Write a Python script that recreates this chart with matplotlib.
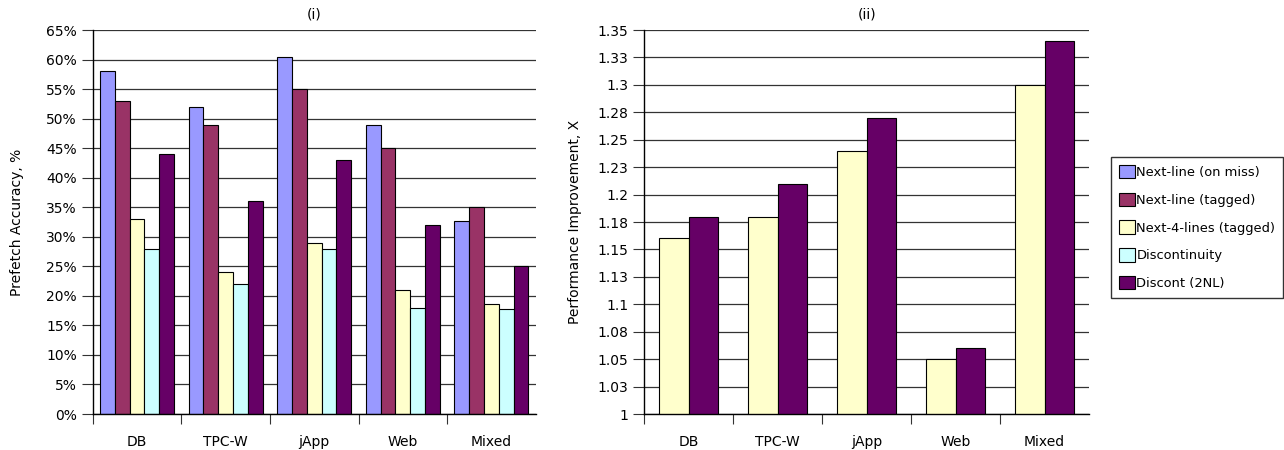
import numpy as np
import matplotlib
matplotlib.use("Agg")
import matplotlib.pyplot as plt
from matplotlib.ticker import FuncFormatter

# data
groups = ["DB", "TPC-W", "jApp", "Web", "Mixed"]
series = ["Next-line (on miss)", "Next-line (tagged)", "Next-4-lines (tagged)",
          "Discontinuity", "Discont (2NL)"]
colors = ["#9999FF", "#993366", "#FFFFCC", "#CCFFFF", "#660066"]

next_line_miss = [58, 52, 60.5, 49, 32.6]
next_line_tagged = [53, 49, 55, 45, 35.1]
next4_tagged = [33, 24, 29, 21, 18.6]
discontinuity = [28, 22, 28, 18, 17.8]
discont_2nl = [44, 36, 43, 32, 25]
accuracy = [next_line_miss, next_line_tagged, next4_tagged, discontinuity, discont_2nl]

perf_next4 = [1.16, 1.18, 1.24, 1.05, 1.30]
perf_2nl = [1.18, 1.21, 1.27, 1.06, 1.34]
perf_ticks = [1, 1.025, 1.05, 1.075, 1.1, 1.125, 1.15, 1.175, 1.2, 1.225,
              1.25, 1.275, 1.3, 1.325, 1.35]
perf_labels = ["1", "1.03", "1.05", "1.08", "1.1", "1.13", "1.15", "1.18",
               "1.2", "1.23", "1.25", "1.28", "1.3", "1.33", "1.35"]

plt.rcParams['font.family'] = ['DejaVu Sans']
fs = 10

fig = plt.figure(figsize=(12.84, 4.5), dpi=100)
ax1 = fig.add_axes([92.7 / 1284, 36 / 450, 443 / 1284, 384 / 450])
ax2 = fig.add_axes([644.3 / 1284, 36 / 450, 444.7 / 1284, 384 / 450])

x = np.arange(len(groups))


def style(ax):
    ax.set_xlim(-0.5, len(groups) - 0.5)
    for s in ["top", "right"]:
        ax.spines[s].set_visible(False)
    for s in ["left", "bottom"]:
        ax.spines[s].set_color("black")
        ax.spines[s].set_linewidth(1)
    ax.set_axisbelow(True)
    ax.yaxis.grid(True, color="#333333", linewidth=0.9)
    ax.set_xticks(np.arange(-0.5, len(groups) - 1, 1.0))
    ax.set_xticklabels([])
    ax.set_xticks(x, minor=True)
    ax.set_xticklabels(groups, minor=True, fontsize=fs)
    ax.tick_params(axis="x", which="major", direction="out", length=7, color="#333333")
    ax.tick_params(axis="x", which="minor", length=0, pad=15)
    ax.tick_params(axis="y", direction="out", length=8, labelsize=fs, color="#333333")


# (i) prefetch accuracy
w = 1 / 6
for j, vals in enumerate(accuracy):
    ax1.bar(x + (j - 2) * w, vals, w, color=colors[j], edgecolor="black",
            linewidth=0.8, label=series[j])
style(ax1)
ax1.set_ylim(0, 65)
ax1.set_yticks(np.arange(0, 66, 5))
ax1.yaxis.set_major_formatter(FuncFormatter(lambda v, p: "%d%%" % v))
ax1.set_ylabel("Prefetch Accuracy, %", fontsize=fs, labelpad=16)
ax1.set_title("(i)", fontsize=fs, pad=8)

# (ii) performance improvement
w2 = 1 / 3
ax2.bar(x - w2 / 2, perf_next4, w2, color=colors[2], edgecolor="black", linewidth=0.8)
ax2.bar(x + w2 / 2, perf_2nl, w2, color=colors[4], edgecolor="black", linewidth=0.8)
style(ax2)
ax2.set_ylim(1, 1.35)
ax2.set_yticks(perf_ticks)
ax2.set_yticklabels(perf_labels)
ax2.set_ylabel("Performance Improvement, X", fontsize=fs, labelpad=11)
ax2.set_title("(ii)", fontsize=fs, pad=8)

handles, labels = ax1.get_legend_handles_labels()
leg = fig.legend(handles, labels, loc="upper left",
                 bbox_to_anchor=(1111 / 1284, 1 - 157 / 450),
                 fontsize=9.4, frameon=True, fancybox=False, edgecolor="black",
                 handlelength=1.2, handleheight=1.2, handletextpad=0.15,
                 labelspacing=1.05, borderpad=0.6, borderaxespad=0)
leg.get_frame().set_linewidth(1)

fig.savefig("out.png", dpi=100)
